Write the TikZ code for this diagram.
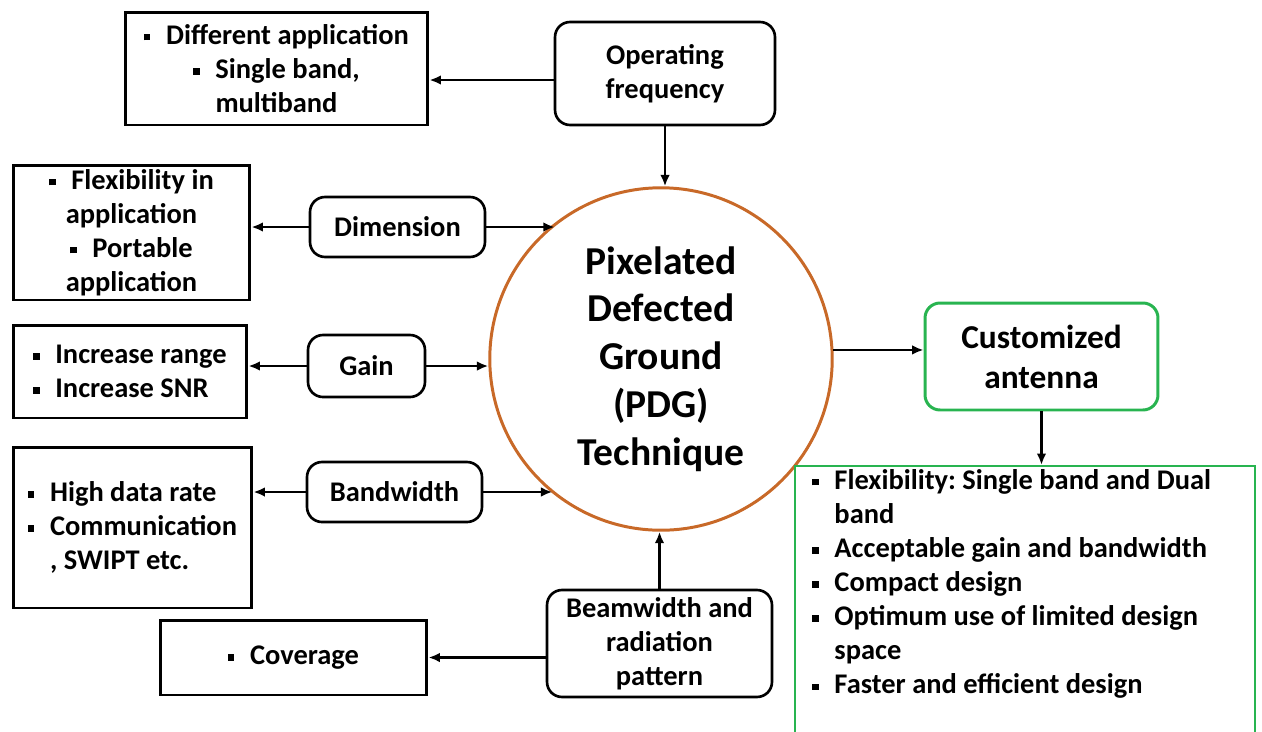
\documentclass[tikz,border=0pt]{standalone}
\usepackage{fontspec}
\setmainfont{Carlito}
\usetikzlibrary{arrows.meta,shapes}
\definecolor{pdgorange}{RGB}{200,105,40}
\definecolor{antgreen}{RGB}{40,180,80}
\newcommand{\sqb}{\raisebox{0.28ex}{\rule{3.6pt}{3.6pt}}\hspace{9pt}}
\newcommand{\ind}{\hphantom{\sqb}}
\frenchspacing

\begin{document}
\begin{tikzpicture}[x=0.02cm,y=-0.02cm,
    font=\fontsize{16.2}{19.4}\selectfont\bfseries,
    sqbox/.style={draw, line width=1.7pt, inner sep=0pt, align=center},
    rbox/.style={draw, line width=1.5pt, rounded corners=0.3cm, inner sep=0pt, align=center},
    arr/.style={-{Latex[length=6.5pt,width=5.5pt]}, line width=1.3pt}]
		\useasboundingbox (0,0) rectangle (1262,731);

		% Define nodes
		\node[sqbox, minimum width=6.06cm, minimum height=2.26cm] (app) at (276.5,68.5)
			{\sqb Different application\\ \sqb Single band,\\ multiband};
		\node[rbox, minimum width=4.4cm, minimum height=2.06cm] (opf) at (665,73.5)
			{Operating\\ frequency};
		\node[sqbox, minimum width=4.74cm, minimum height=2.7cm] (flex) at (131.5,232.5)
			{\sqb Flexibility in\\ application\\ \sqb Portable\\ application};
		\node[rbox, minimum width=3.5cm, minimum height=1.2cm] (dim) at (397.5,227) {Dimension};
		\node[sqbox, align=left, minimum width=4.68cm, minimum height=1.86cm] (rng) at (130,371.5)
			{\sqb Increase range\\ \sqb Increase SNR};
		\node[rbox, minimum width=2.34cm, minimum height=1.24cm] (gain) at (366.5,366) {Gain};
		\node[sqbox, align=left, minimum width=4.78cm, minimum height=3.22cm] (rate) at (132.5,527.5)
			{\sqb High data rate\\ \sqb Communication\\ \ind, SWIPT etc.};
		\node[rbox, minimum width=3.5cm, minimum height=1.2cm] (bw) at (394.5,492) {Bandwidth};
		\node[sqbox, minimum width=5.34cm, minimum height=1.5cm] (cov) at (293.5,657.5) {\sqb Coverage};
		\node[rbox, minimum width=4.5cm, minimum height=2.14cm] (beam) at (659.5,643.5)
			{Beamwidth and\\ radiation\\ pattern};
		\node[circle, draw=pdgorange, line width=1.7pt, minimum size=6.85cm, inner sep=0pt, align=center,
			font=\fontsize{22.5}{27.2}\selectfont\bfseries] (pdg) at (661,359)
			{Pixelated\\ Defected\\ Ground\\ (PDG)\\ Technique};
		\node[rbox, draw=antgreen, line width=1.7pt, minimum width=4.66cm, minimum height=2.14cm,
			font=\fontsize{19}{22.7}\selectfont\bfseries] (cust) at (1041.5,356.5)
			{Customized\\ antenna};
		\node[draw=antgreen, line width=1.2pt, minimum width=9.2cm, minimum height=5.48cm, inner sep=0pt] (featbox) at (1025,603) {};
		\node[align=left, anchor=north west, inner sep=0pt] (feat) at (812,469)
			{\sqb Flexibility: Single band and Dual\\ \ind band\\
			 \sqb Acceptable gain and bandwidth\\ \sqb Compact design\\
			 \sqb Optimum use of limited design\\ \ind space\\
			 \sqb Faster and efficient design};

		% Connect the nodes
		\draw[arr] ([yshift=-0.13cm]opf.west) -- ([yshift=-0.13cm]opf.west -| app.east);
		\draw[arr] (opf.south) -- (opf.south |- pdg.north);
		\draw[arr] (dim.west) -- (dim.west -| flex.east);
		\draw[arr] (dim.east) -- (dim.east -| pdg.128.5);
		\draw[arr] (gain.west) -- (gain.west -| rng.east);
		\draw[arr] (gain.east) -- (gain.east -| pdg.west);
		\draw[arr] (bw.west) -- (bw.west -| rate.east);
		\draw[arr] (bw.east) -- (bw.east -| pdg.231);
		\draw[arr] (beam.north) -- (beam.north |- pdg.south);
		\draw[arr] (cov.east -| beam.west) -- (cov.east);
		\draw[arr] (pdg.3) -- (pdg.3 -| cust.west);
		\draw[arr] (cust.south) -- (cust.south |- featbox.north);
	\end{tikzpicture}
\end{document}
